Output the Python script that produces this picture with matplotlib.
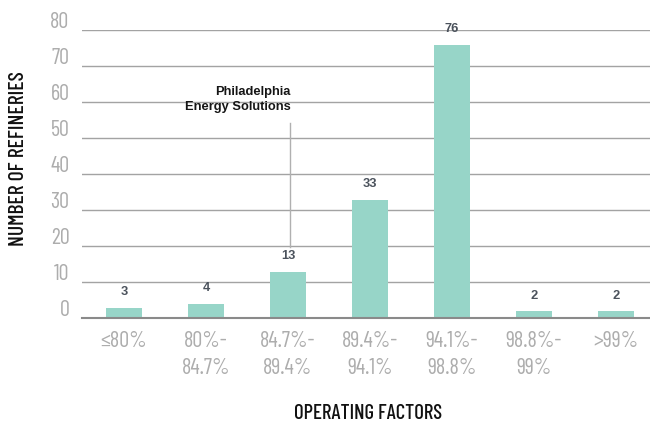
#!/usr/bin/env python3
"""Refinery operating factors - bar chart recreation."""
import matplotlib
matplotlib.use("Agg")
import matplotlib.pyplot as plt
import matplotlib.transforms as mtransforms

# ── data ─────────────────────────────────────────────────────────────────────
CATEGORIES = ["≤80%", "80%-\n84.7%", "84.7%-\n89.4%", "89.4%-\n94.1%",
              "94.1%-\n98.8%", "98.8%-\n99%", ">99%"]
REFINERIES = [3, 4, 13, 33, 76, 2, 2]
Y_TICKS = [0, 10, 20, 30, 40, 50, 60, 70, 80]
NOTE_TEXT = "Philadelphia\nEnergy Solutions"
NOTE_IDX = 2            # bar the callout belongs to
NOTE_SPAN = (19.7, 54.2)  # callout line, in refinery counts

# ── style ────────────────────────────────────────────────────────────────────
BAR_COL = "#97d5c8"
GRID_COL = "#a3a3a3"
TICK_COL = "#adadad"
VALUE_COL = "#4b525c"
NARROW = ["Barlow Condensed", "DejaVu Sans"]
PLAIN = ["Liberation Sans", "DejaVu Sans"]

fig = plt.figure(figsize=(6.5, 4.23), dpi=100)
ax = fig.add_axes([82 / 650, 1 - 318.3 / 423, 568 / 650, 288 / 423])

x = list(range(len(CATEGORIES)))
ax.bar(x, REFINERIES, width=0.44, color=BAR_COL, zorder=2)

for xi, v in zip(x, REFINERIES):
    ax.annotate(f"{v}", (xi, v), xytext=(0, 9), textcoords="offset points",
                ha="center", va="baseline", fontsize=9.3, fontweight="bold",
                color=VALUE_COL, family=PLAIN, zorder=4)

# callout for Philadelphia Energy Solutions
ax.plot([NOTE_IDX + 0.02] * 2, NOTE_SPAN, color="#b0b0b0", lw=1, zorder=1)
ax.annotate(NOTE_TEXT, (NOTE_IDX + 0.03, NOTE_SPAN[1]), xytext=(0, 7),
            textcoords="offset points", ha="right", va="bottom",
            fontsize=9.3, fontweight="bold", color="#151515", family=PLAIN,
            linespacing=1.35, zorder=5)

ax.set_xlim(-0.512, 6.415)
ax.set_ylim(0, 80)
ax.set_yticks(Y_TICKS)
ax.set_yticklabels([str(t) for t in Y_TICKS], family=NARROW, fontsize=16,
                   fontweight="normal", color=TICK_COL)
ax.set_xticks(x)
ax.set_xticklabels(CATEGORIES, family=NARROW, fontsize=16,
                   fontweight="normal", color=TICK_COL, linespacing=1.4)
ax.tick_params(axis="y", length=0, pad=9)
ax.tick_params(axis="x", length=0, pad=9)

# y labels sit just above their grid lines
lift = mtransforms.ScaledTranslation(0, 2 / 72, fig.dpi_scale_trans)
for lbl in ax.get_yticklabels():
    lbl.set_va("baseline")
    lbl.set_transform(lbl.get_transform() + lift)

ax.grid(axis="y", color=GRID_COL, lw=1, zorder=0)
ax.set_axisbelow(True)
for side in ("top", "right", "left"):
    ax.spines[side].set_visible(False)
ax.spines["bottom"].set_color("#8a8a8a")
ax.spines["bottom"].set_linewidth(1.5)
ax.spines["bottom"].set_zorder(3)

fig.text(19 / 650, 1 - 158.5 / 423, "NUMBER OF REFINERIES", rotation=90,
         ha="center", va="center", fontsize=15.5, fontweight="medium",
         family=NARROW, color="#111111")
fig.text(368 / 650, 1 - 413 / 423, "OPERATING FACTORS", ha="center",
         va="center", fontsize=15, fontweight="medium", family=NARROW,
         color="#111111")

fig.savefig("out.png", dpi=100)
